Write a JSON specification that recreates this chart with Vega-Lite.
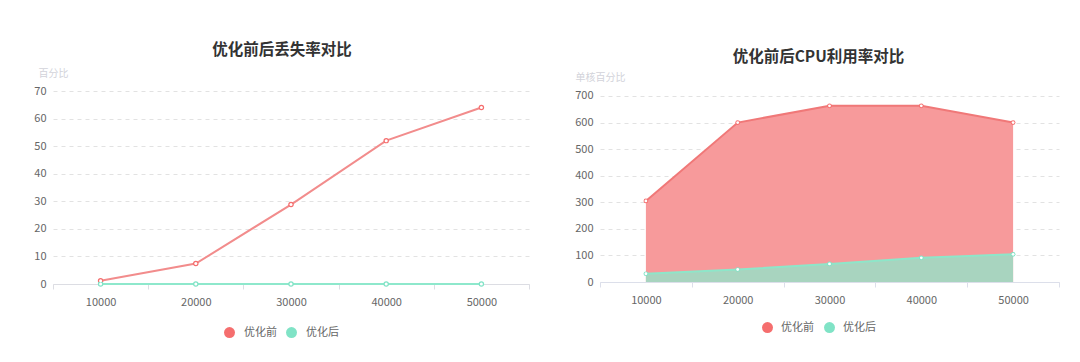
{
  "$schema": "https://vega.github.io/schema/vega-lite/v6.json",
  "background": "white",
  "padding": {"left": 33, "top": 42, "right": 20, "bottom": 10},
  "bounds": "flush",
  "spacing": 71,
  "config": {
    "font": "Noto Sans CJK SC",
    "view": {"stroke": null},
    "axis": {"labelColor": "#666666", "labelFontSize": 11, "labelFont": "Noto Sans CJK SC"},
    "title": {"fontSize": 15.5, "fontWeight": "bold", "color": "#333333"}
  },
  "datasets": {
    "loss": [
      {"n": 10000, "s": "优化前", "v": 1.2},
      {"n": 20000, "s": "优化前", "v": 7.4},
      {"n": 30000, "s": "优化前", "v": 28.8},
      {"n": 40000, "s": "优化前", "v": 52},
      {"n": 50000, "s": "优化前", "v": 64},
      {"n": 10000, "s": "优化后", "v": 0},
      {"n": 20000, "s": "优化后", "v": 0},
      {"n": 30000, "s": "优化后", "v": 0},
      {"n": 40000, "s": "优化后", "v": 0},
      {"n": 50000, "s": "优化后", "v": 0}
    ],
    "cpu": [
      {"n": 10000, "s": "优化前", "v": 305},
      {"n": 20000, "s": "优化前", "v": 600},
      {"n": 30000, "s": "优化前", "v": 663},
      {"n": 40000, "s": "优化前", "v": 663},
      {"n": 50000, "s": "优化前", "v": 600},
      {"n": 10000, "s": "优化后", "v": 31},
      {"n": 20000, "s": "优化后", "v": 47},
      {"n": 30000, "s": "优化后", "v": 68},
      {"n": 40000, "s": "优化后", "v": 91},
      {"n": 50000, "s": "优化后", "v": 104}
    ]
  },
  "resolve": {
    "scale": {"color": "independent", "stroke": "independent", "x": "independent", "y": "independent"},
    "legend": {"color": "independent", "stroke": "independent"}
  },
  "hconcat": [
    {
      "width": 476,
      "height": 193,
      "title": {"text": "优化前后丢失率对比", "offset": 10, "dx": -9},
      "data": {"name": "loss"},
      "encoding": {
        "x": {
          "field": "n", "type": "quantitative",
          "scale": {"domain": [5000, 55000], "nice": false, "zero": false},
          "axis": {
            "title": null, "values": [5000, 15000, 25000, 35000, 45000, 55000],
            "labelExpr": "datum.value >= 55000 ? '' : '' + (datum.value + 5000)",
            "labelOffset": 47.6, "labelPadding": 7, "labelFlush": false,
            "domainColor": "#dcdde3", "tickColor": "#dcdde3", "tickSize": 5, "grid": false
          }
        },
        "y": {
          "field": "v", "type": "quantitative",
          "scale": {"domain": [0, 70], "nice": false},
          "axis": {
            "values": [0, 10, 20, 30, 40, 50, 60, 70],
            "title": "百分比", "titleAngle": 0, "titleX": 0, "titleY": -18,
            "titleAlign": "center", "titleBaseline": "middle",
            "titleColor": "#d2d3da", "titleFontSize": 10, "titleFontWeight": "normal",
            "domain": false, "ticks": false, "labelPadding": 7,
            "grid": true, "gridColor": "#e2e2e2", "gridDash": [4, 4]
          }
        }
      },
      "layer": [
        {
          "mark": {"type": "line", "strokeWidth": 2},
          "encoding": {
            "stroke": {"field": "s", "type": "nominal",
              "scale": {"domain": ["优化后", "优化前"], "range": ["#8ee8cc", "#f28c8c"]},
              "legend": null}
          }
        },
        {
          "mark": {"type": "point", "filled": true, "size": 30, "opacity": 1},
          "encoding": {
            "color": {"field": "s", "type": "nominal",
              "scale": {"domain": ["优化前", "优化后"], "range": ["#f56e6e", "#80e3c6"]},
              "legend": {
                "title": null, "orient": "none", "direction": "horizontal",
                "legendX": 171, "legendY": 236, "padding": 0,
                "symbolType": "circle", "symbolSize": 120, "symbolStrokeWidth": 0,
                "labelFontSize": 11, "labelColor": "#666666", "labelOffset": 9,
                "columnPadding": 9
              }
            }
          }
        },
        {
          "mark": {"type": "point", "filled": true, "size": 9, "color": "white", "opacity": 1},
          "encoding": {}
        }
      ]
    },
    {
      "width": 459,
      "height": 191,
      "title": {"text": "优化前后CPU利用率对比", "offset": 7, "dx": -11},
      "data": {"name": "cpu"},
      "encoding": {
        "x": {
          "field": "n", "type": "quantitative",
          "scale": {"domain": [5000, 55000], "nice": false, "zero": false},
          "axis": {
            "title": null, "values": [5000, 15000, 25000, 35000, 45000, 55000],
            "labelExpr": "datum.value >= 55000 ? '' : '' + (datum.value + 5000)",
            "labelOffset": 45.9, "labelPadding": 7, "labelFlush": false,
            "domainColor": "#dcdfea", "tickColor": "#dcdfea", "tickSize": 5, "grid": false
          }
        },
        "y": {
          "field": "v", "type": "quantitative",
          "scale": {"domain": [0, 718.8], "nice": false},
          "axis": {
            "values": [0, 100, 200, 300, 400, 500, 600, 700],
            "title": "单核百分比", "titleAngle": 0, "titleX": 0, "titleY": -14,
            "titleAlign": "center", "titleBaseline": "middle",
            "titleColor": "#d2d3da", "titleFontSize": 10, "titleFontWeight": "normal",
            "domain": false, "ticks": false, "labelPadding": 7,
            "grid": true, "gridColor": "#e2e2e2", "gridDash": [4, 4]
          }
        }
      },
      "layer": [
        {
          "transform": [{"filter": "datum.s === '优化前'"}],
          "mark": {"type": "area", "color": "#f79a9b", "opacity": 1},
          "encoding": {}
        },
        {
          "transform": [{"filter": "datum.s === '优化后'"}],
          "mark": {"type": "area", "color": "#a8d4bf", "opacity": 1},
          "encoding": {}
        },
        {
          "mark": {"type": "line", "strokeWidth": 2},
          "encoding": {
            "stroke": {"field": "s", "type": "nominal",
              "scale": {"domain": ["优化后", "优化前"], "range": ["#8ee6c9", "#f07878"]},
              "legend": null}
          }
        },
        {
          "mark": {"type": "point", "filled": true, "size": 22, "opacity": 1},
          "encoding": {
            "color": {"field": "s", "type": "nominal",
              "scale": {"domain": ["优化前", "优化后"], "range": ["#f56e6e", "#80e3c6"]},
              "legend": {
                "title": null, "orient": "none", "direction": "horizontal",
                "legendX": 162, "legendY": 231, "padding": 0,
                "symbolType": "circle", "symbolSize": 120, "symbolStrokeWidth": 0,
                "labelFontSize": 11, "labelColor": "#666666", "labelOffset": 8,
                "columnPadding": 10
              }
            }
          }
        },
        {
          "mark": {"type": "point", "filled": true, "size": 8, "color": "white", "opacity": 1},
          "encoding": {}
        }
      ]
    }
  ]
}
